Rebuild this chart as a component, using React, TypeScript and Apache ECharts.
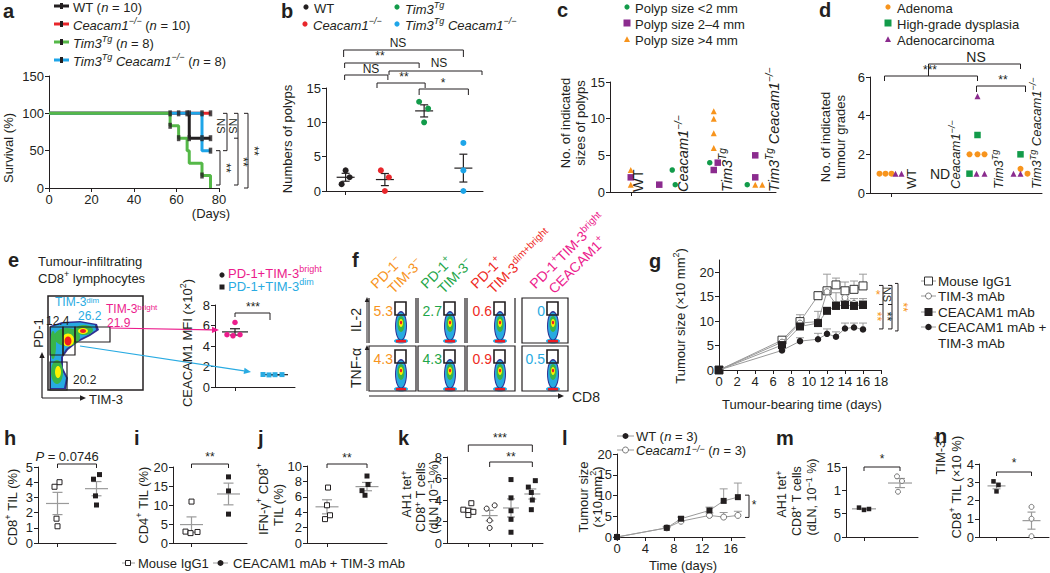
import React, { useEffect, useRef } from "react";
import * as echarts from "echarts";

const FONT = "'Liberation Sans', Arial, Helvetica, sans-serif";
const INK = "#231f20";
const GREY = "#9a9a9a";
const RED = "#e8262b";
const GREEN_A = "#55b848";
const GREEN = "#129b4a";
const BLUE = "#1ea5e8";
const ORANGE = "#f7941d";
const PURPLE = "#8b2b8e";
const PINK = "#ec1c8c";
const CYAN = "#29abe2";
const F_RED = "#ee2a24";
const F_GREEN = "#1fa64a";

/* ================= data ================= */
// a — survival (%) vs days
const aWT = [[0, 100], [66, 66.7], [76, 66.7]];
const aCeacam = [[0, 100], [76, 100]];
const aTim3 = [[0, 100], [57, 83.3], [61, 66.7], [65, 50], [66, 33.3], [72, 16.7], [76, 0]];
const aTim3Ceacam = [[0, 100], [72, 50], [76, 50]];
const aCensored = [[57, 100], [61, 100], [65, 100], [66, 100], [72, 100], [76, 100], [66, 66.7], [72, 66.7], [76, 66.7], [57, 83.3], [61, 66.7], [72, 16.7], [76, 50]];

// b — numbers of polyps
const bGroups = ["WT", "Ceacam1−/−", "Tim3Tg", "Tim3Tg Ceacam1−/−"];
const bWT = [3, 2, 1];
const bCeacam = [3, 2, 0];
const bTim3 = [13, 12, 10];
const bTim3Ceacam = [7, 3, 0];

// c — [group index, count]
const cSmall = [[1, 3], [1, 1], [2, 4], [3, 1]];
const cMedium = [[0, 2], [1, 1], [2, 4], [2, 3], [3, 5], [3, 2]];
const cLarge = [[0, 3], [0, 1], [2, 11], [2, 10], [2, 8], [2, 6], [3, 1], [3, 1]];

// d — [group index, count]
const dAdenoma = [[0, 1], [0, 1], [0, 1], [2, 2], [2, 2], [2, 2], [3, 1.25], [3, 1]];
const dHighGrade = [[2, 1], [2, 3], [3, 2]];
const dAdenoCa = [[0, 1], [0, 1], [2, 1], [2, 1], [2, 5], [3, 1], [3, 1]];

// e — CEACAM1 MFI (x10^2)
const eGroups = ["PD-1+TIM-3bright", "PD-1+TIM-3dim"];
const eBright = [6.3, 5.1, 5.0, 5.1];
const eDim = [1.22, 1.18, 1.2, 1.21];

// f — percentages in gates
const fIL2 = ["5.3", "2.7", "0.6", "0"];
const fTNF = ["4.3", "4.3", "0.9", "0.5"];

// g — tumour size (x10 mm2)
const gDays = [0, 7, 9, 11, 12, 13, 14, 15, 16];
const gIgG = [0, 6.1, 9.9, 15.2, 16.2, 17.4, 16.2, 16.5, 17.2];
const gIgGTop = [0, 6.5, 11.3, 16.0, 19.6, 18.8, 18.0, 18.2, 19.6];
const gTim3 = [0, 5.7, 9.6, 9.9, 16.0, 13.4, 14.8, 13.6, 13.4];
const gTim3Top = [0, 6.0, 10.4, 12.0, 16.8, 15.8, 15.6, 14.6, 14.6];
const gCeacam = [0, 5.1, 8.9, 9.6, 12.1, 13.1, 13.3, 13.1, 13.3];
const gCeacamTop = [0, 5.5, 9.6, 10.2, 12.8, 14.0, 14.2, 14.0, 14.2];
const gCombo = [0, 4.0, 5.9, 6.3, 7.4, 6.8, 8.5, 8.7, 8.3];
const gComboTop = [0, 4.4, 6.6, 7.5, 8.4, 7.8, 9.6, 9.6, 9.6];

// h, i, j — IgG1 vs CEACAM1 mAb + TIM-3 mAb
const treatGroups = ["Mouse IgG1", "CEACAM1 mAb + TIM-3 mAb"];
const hIgG = [4.0, 3.7, 1.6, 1.1];
const hCombo = [4.5, 4.2, 3.1, 2.5];
const iIgG = [10.9, 3.0, 2.6, 2.9];
const iCombo = [17.4, 13.7, 7.6];
const jIgG = [7.2, 4.9, 3.6, 3.1];
const jCombo = [8.7, 7.6, 6.8, 6.2];

// k — AH1 tet+ CD8+ T cells
const kIgG = [3.7, 3.1, 3.0, 2.9, 2.6];
const kTim3 = [3.2, 3.5, 2.1, 1.4];
const kCeacam = [5.9, 4.2, 3.0, 2.2, 1.0];
const kCombo = [5.8, 5.2, 4.7, 4.0, 3.1];

// l — tumour size
const lDays = [0, 7, 9, 13, 15, 17];
const lWT = [0, 2.2, 4.4, 6.4, 8.7, 9.6];
const lWTTop = [0, 2.5, 4.8, 7.2, 11.6, 13.0];
const lCeacam = [0, 2.2, 3.8, 5.2, 4.8, 5.2];
const lCeacamTop = [0, 2.4, 4.0, 5.8, 5.9, 6.2];

// m, n — WT vs Ceacam1-/-
const mnGroups = ["WT", "Ceacam1−/−"];
const mWT = [6.3, 5.8, 6.0];
const mCeacam = [13.0, 12.0, 9.7];
const nWT = [3.05, 2.85, 2.5];
const nCeacam = [1.65, 1.0, 0.04];
const mYLabels: Record<number, string> = { 0: "0", 5: "5", 10: "1", 15: "15" };

/* ================= layout ================= */
const LA: any = { l: 49, t: 76, w: 170, h: 112, x0: 0, x1: 80, y0: 0, y1: 150 };
const LB: any = { l: 326, t: 88, w: 157, h: 103, n: 4, y0: 0, y1: 15 };
const LC: any = { l: 610, t: 82, w: 166, h: 110, n: 4, y0: 0, y1: 15 };
const LD: any = { l: 870, t: 77, w: 172, h: 116, n: 4, y0: 0, y1: 6 };
const LE: any = { l: 215, t: 305, w: 80, h: 82, n: 2, y0: 0, y1: 8 };
const LG: any = { l: 719, t: 260, w: 162, h: 110, x0: 0, x1: 18, y0: 0, y1: 22.5 };
const LH: any = { l: 38, t: 467, w: 78, h: 76, n: 2, y0: 0, y1: 5 };
const LI: any = { l: 173, t: 467, w: 74, h: 76, n: 2, y0: 0, y1: 20 };
const LJ: any = { l: 307, t: 466, w: 80, h: 77, n: 2, y0: 0, y1: 10 };
const LK: any = { l: 447, t: 457, w: 96, h: 86, x0: 0, x1: 4.5, y0: 0, y1: 8 };
const LL: any = { l: 617, t: 454, w: 128, h: 83, x0: 0, x1: 18, y0: 0, y1: 20 };
const LM: any = { l: 846, t: 467, w: 72, h: 70, n: 2, y0: 0, y1: 15 };
const LN: any = { l: 979, t: 464, w: 70, h: 73, n: 2, y0: 0, y1: 4 };

function px(g: any, x: number) {
  return g.n ? g.l + ((x + 0.5) * g.w) / g.n : g.l + ((x - g.x0) / (g.x1 - g.x0)) * g.w;
}
function py(g: any, y: number) {
  return g.t + g.h * (1 - (y - g.y0) / (g.y1 - g.y0));
}

const mean = (a: number[]) => a.reduce((s, v) => s + v, 0) / a.length;
const sem = (a: number[]) => {
  const m = mean(a);
  const sd = Math.sqrt(a.reduce((s, v) => s + (v - m) * (v - m), 0) / (a.length - 1));
  return sd / Math.sqrt(a.length);
};

function buildOption() {
  const grids: any[] = [];
  const xAxes: any[] = [];
  const yAxes: any[] = [];
  const series: any[] = [];
  const G: any[] = [];

  const axLine = { show: true, onZero: false, lineStyle: { color: INK, width: 1 } };
  const tick = { show: true, inside: false, length: 4, lineStyle: { color: INK, width: 1 } };
  const lab = (o: any = {}) => ({ color: INK, fontSize: 13, fontFamily: FONT, margin: 5, ...o });
  const vAx = (g: any, isX: boolean, interval: number, extra: any = {}) => ({
    type: "value",
    min: isX ? g.x0 : g.y0,
    max: isX ? g.x1 : g.y1,
    interval,
    axisLine: axLine,
    axisTick: tick,
    axisLabel: lab(),
    splitLine: { show: false },
    ...extra,
  });
  const cAx = (cats: string[]) => ({
    type: "category",
    data: cats,
    boundaryGap: true,
    axisLine: axLine,
    axisTick: { ...tick, alignWithLabel: true },
    axisLabel: { show: false },
    splitLine: { show: false },
  });
  function addGrid(g: any, xa: any, ya: any) {
    const i = grids.length;
    grids.push({ left: g.l, top: g.t, width: g.w, height: g.h, containLabel: false, outerBoundsMode: "none" });
    xAxes.push({ ...xa, gridIndex: i });
    yAxes.push({ ...ya, gridIndex: i });
    return i;
  }

  /* ---- series helpers ---- */
  function pts(gi: number, pairs: number[][], jit: number[], sym: any) {
    series.push({
      type: "scatter",
      xAxisIndex: gi,
      yAxisIndex: gi,
      z: 5,
      silent: true,
      symbol: sym.symbol,
      symbolSize: sym.size,
      itemStyle: { color: sym.fill, borderColor: sym.stroke || sym.fill, borderWidth: sym.bw || 0, opacity: 1 },
      data: pairs.map((p, k) => ({ value: p, symbolOffset: [jit[k] || 0, 0] })),
    });
  }
  const grp = (cat: number, vals: number[]) => vals.map((v) => [cat, v]);
  function stat(gi: number, groups: number[][], cats: number[], color: string, mh: number, ch: number, lw = 1.2) {
    series.push({
      type: "custom",
      xAxisIndex: gi,
      yAxisIndex: gi,
      z: 4,
      silent: true,
      encode: { x: 0, y: 1 },
      data: groups.map((g, k) => [cats[k], mean(g), mean(g) - sem(g), mean(g) + sem(g)]),
      renderItem: (params: any, api: any) => {
        const x = api.value(0);
        const pm = api.coord([x, api.value(1)]);
        const pl = api.coord([x, api.value(2)]);
        const ph = api.coord([x, api.value(3)]);
        const st = { stroke: color, lineWidth: lw };
        return {
          type: "group",
          children: [
            { type: "line", shape: { x1: pm[0] - mh, y1: pm[1], x2: pm[0] + mh, y2: pm[1] }, style: st },
            { type: "line", shape: { x1: pl[0], y1: pl[1], x2: ph[0], y2: ph[1] }, style: st },
            { type: "line", shape: { x1: pl[0] - ch, y1: pl[1], x2: pl[0] + ch, y2: pl[1] }, style: st },
            { type: "line", shape: { x1: ph[0] - ch, y1: ph[1], x2: ph[0] + ch, y2: ph[1] }, style: st },
          ],
        };
      },
    });
  }
  function errUp(gi: number, xs: number[], vals: number[], tops: number[], color: string, ch: number) {
    series.push({
      type: "custom",
      xAxisIndex: gi,
      yAxisIndex: gi,
      z: 1,
      silent: true,
      encode: { x: 0, y: 1 },
      data: xs.map((x, k) => [x, vals[k], tops[k]]),
      renderItem: (params: any, api: any) => {
        const x = api.value(0);
        const v = api.value(1);
        const t = api.value(2);
        if (!(t > v)) return { type: "group", children: [] };
        const p = api.coord([x, v]);
        const q = api.coord([x, t]);
        const st = { stroke: color, lineWidth: 1 };
        return {
          type: "group",
          children: [
            { type: "line", shape: { x1: p[0], y1: p[1], x2: q[0], y2: q[1] }, style: st },
            { type: "line", shape: { x1: q[0] - ch, y1: q[1], x2: q[0] + ch, y2: q[1] }, style: st },
          ],
        };
      },
    });
  }
  function line(gi: number, xs: number[], vals: number[], sym: any, z = 3) {
    series.push({
      type: "line",
      xAxisIndex: gi,
      yAxisIndex: gi,
      z,
      silent: true,
      symbol: sym.symbol,
      symbolSize: sym.size,
      showSymbol: true,
      itemStyle: { color: sym.fill, borderColor: sym.stroke || sym.fill, borderWidth: sym.bw || 0 },
      lineStyle: { color: GREY, width: 1 },
      data: xs.map((x, k) => [x, vals[k]]),
    });
  }

  /* ---- graphic helpers ---- */
  function T(text: string, x: number, y: number, o: any = {}) {
    const size = o.size || 13;
    const color = o.color || INK;
    const isRich = text.indexOf("{") >= 0;
    const lh = o.lh || Math.round(size * 1.3);
    const style: any = {
      text,
      fill: color,
      fontSize: size,
      fontFamily: FONT,
      fontWeight: o.bold ? "bold" : "normal",
      fontStyle: o.italic ? "italic" : "normal",
      align: o.align || "left",
      verticalAlign: "middle",
      textAlign: o.align || "left",
      textVerticalAlign: "middle",
    };
    if (isRich) {
      style.lineHeight = lh;
      style.rich = {
        i: { fontStyle: "italic", fontSize: size, fontFamily: FONT, fill: color, lineHeight: lh },
        s: { fontSize: Math.round(size * 0.68), fontFamily: FONT, fill: color, verticalAlign: "top" },
        si: { fontStyle: "italic", fontSize: Math.round(size * 0.68), fontFamily: FONT, fill: color, verticalAlign: "top" },
      };
    }
    G.push({ type: "text", x, y, rotation: o.rot || 0, z: 50, silent: true, style });
  }
  function L(x1: number, y1: number, x2: number, y2: number, color = INK, w = 1) {
    G.push({ type: "line", z: 40, silent: true, shape: { x1, y1, x2, y2 }, style: { stroke: color, lineWidth: w } });
  }
  function PL(points: number[][], color = INK, w = 1) {
    G.push({ type: "polyline", z: 40, silent: true, shape: { points }, style: { stroke: color, lineWidth: w, fill: "none" } });
  }
  function R(x: number, y: number, w: number, h: number, o: any = {}) {
    G.push({
      type: "rect",
      z: o.z || 40,
      silent: true,
      shape: { x, y, width: w, height: h },
      style: { fill: o.fill || "none", stroke: o.stroke || "none", lineWidth: o.lw || 1 },
    });
  }
  function E(cx: number, cy: number, rx: number, ry: number, fill: string) {
    G.push({ type: "ellipse", z: 30, silent: true, shape: { cx, cy, rx, ry }, style: { fill } });
  }
  function C(cx: number, cy: number, r: number, fill: string, stroke = "none") {
    G.push({ type: "circle", z: 40, silent: true, shape: { cx, cy, r }, style: { fill, stroke, lineWidth: 1 } });
  }
  function PG(points: number[][], fill: string, z = 30) {
    G.push({ type: "polygon", z, silent: true, shape: { points }, style: { fill } });
  }
  function tri(cx: number, cy: number, s: number, fill: string) {
    PG([[cx, cy - s * 0.55], [cx + s * 0.5, cy + s * 0.4], [cx - s * 0.5, cy + s * 0.4]], fill, 40);
  }
  function arrow(x1: number, y1: number, x2: number, y2: number, color = INK, w = 1.2, hs = 6) {
    const a = Math.atan2(y2 - y1, x2 - x1);
    const bx = x2 - hs * Math.cos(a);
    const by = y2 - hs * Math.sin(a);
    L(x1, y1, bx, by, color, w);
    const nx = -Math.sin(a) * hs * 0.45;
    const ny = Math.cos(a) * hs * 0.45;
    PG([[x2, y2], [bx + nx, by + ny], [bx - nx, by - ny]], color, 41);
  }
  const hb = (x1: number, x2: number, y: number, l1 = 4, l2 = l1) => PL([[x1, y + l1], [x1, y], [x2, y], [x2, y + l2]]);
  const vb = (x: number, y1: number, y2: number, leg = 4) => PL([[x - leg, y1], [x, y1], [x, y2], [x - leg, y2]]);
  const ROT = Math.PI / 2;
  const letter = (t: string, x: number, y: number) => T(t, x, y, { size: 20, bold: true });

  const openSq = (size: number, color = INK) => ({ symbol: "rect", size, fill: "#fff", stroke: color, bw: 1 });
  const fillSq = (size: number, color = INK) => ({ symbol: "rect", size, fill: color });
  const openCi = (size: number, color = "#666") => ({ symbol: "circle", size, fill: "#fff", stroke: color, bw: 1 });
  const fillCi = (size: number, color = INK) => ({ symbol: "circle", size, fill: color });

  /* ================= panel a ================= */
  const ga = addGrid(LA, vAx(LA, true, 20), vAx(LA, false, 50));
  const kmLines: any[] = [
    [aWT, INK],
    [aCeacam, RED],
    [aTim3Ceacam, BLUE],
    [aTim3, GREEN_A],
  ];
  kmLines.forEach(([d, c], k) => {
    series.push({
      type: "line",
      xAxisIndex: ga,
      yAxisIndex: ga,
      step: "end",
      showSymbol: false,
      silent: true,
      z: 2 + k,
      lineStyle: { color: c, width: 3 },
      data: d,
    });
  });
  series.push({
    type: "scatter",
    xAxisIndex: ga,
    yAxisIndex: ga,
    z: 10,
    silent: true,
    symbol: "rect",
    symbolSize: [3.5, 6],
    itemStyle: { color: INK },
    data: aCensored,
  });
  letter("a", 3, 11);
  const aLeg: any[] = [
    [6, INK, "WT ({i|n} = 10)"],
    [24, RED, "{i|Ceacam1}{si|−/−} ({i|n} = 10)"],
    [42, GREEN_A, "{i|Tim3}{si|Tg} ({i|n} = 8)"],
    [60, BLUE, "{i|Tim3}{si|Tg} {i|Ceacam1}{si|−/−} ({i|n} = 8)"],
  ];
  aLeg.forEach(([y, c, t]) => {
    L(54, y, 69, y, c, 3);
    R(60, y - 3, 3, 6, { fill: INK });
    T(t, 73, y + 1);
  });
  T("Survival (%)", 8, 148, { rot: ROT, align: "center" });
  T("(Days)", 211, 213, { align: "center" });
  vb(227, py(LA, 100), py(LA, 50));
  T("NS", 221, 126, { rot: -ROT, align: "center", size: 11 });
  PL([[234, py(LA, 100)], [238, py(LA, 100)], [238, 185], [234, 185]]);
  L(234, py(LA, 66.7), 238, py(LA, 66.7));
  T("NS", 233, 126, { rot: -ROT, align: "center", size: 11 });
  vb(220, py(LA, 50), 185);
  T("**", 226, 168, { rot: -ROT, align: "center", size: 12 });
  T("**", 243, 162, { rot: -ROT, align: "center", size: 12 });
  vb(248, py(LA, 100), py(LA, 0));
  T("**", 254, 151, { rot: -ROT, align: "center", size: 12 });

  /* ================= panel b ================= */
  const gb = addGrid(LB, cAx(bGroups), vAx(LB, false, 5));
  pts(gb, grp(0, bWT), [0, 4, -4], fillCi(6, INK));
  pts(gb, grp(1, bCeacam), [-4, 4, 0], fillCi(6, RED));
  pts(gb, grp(2, bTim3), [-5, 4, 0], fillCi(6, GREEN));
  pts(gb, grp(3, bTim3Ceacam), [0, 0, 0], fillCi(6, BLUE));
  stat(gb, [bWT, bCeacam, bTim3, bTim3Ceacam], [0, 1, 2, 3], INK, 9, 4);
  letter("b", 281, 11);
  C(306, 7, 2.6, INK);
  T("WT", 314, 8);
  C(305, 24, 2.6, RED);
  T("{i|Ceacam1}{si|−/−}", 313, 25);
  C(397, 7, 2.6, GREEN);
  T("{i|Tim3}{si|Tg}", 405, 9);
  C(397, 24, 2.6, BLUE);
  T("{i|Tim3}{si|Tg} {i|Ceacam1}{si|−/−}", 405, 25);
  T("Numbers of polyps", 287, 139, { rot: ROT, align: "center" });
  const b0 = px(LB, 0), b1 = px(LB, 1), b2 = px(LB, 2), b3 = px(LB, 3);
  hb(b0 - 2, b3, 50, 7);
  T("NS", 398, 43, { align: "center", size: 12 });
  hb(b0 - 1, b2 - 5, 63, 5);
  T("**", 380, 56, { align: "center", size: 12 });
  hb(b0 - 1, b1 + 3, 75, 5);
  T("NS", 371, 69, { align: "center", size: 12 });
  hb(389, 482, 71, 4);
  T("NS", 439, 63, { align: "center", size: 12 });
  hb(377, b2 + 1, 83, 5);
  T("**", 404, 77, { align: "center", size: 12 });
  hb(b2 - 5, b3 + 5, 89, 6);
  T("*", 443, 83, { align: "center", size: 12 });

  /* ================= panel c ================= */
  const gc = addGrid(LC, cAx(bGroups), vAx(LC, false, 5));
  pts(gc, cSmall, [0, 3, -4, -8], { symbol: "circle", size: 5.5, fill: GREEN });
  pts(gc, cMedium, [0, -13, 4, 0, 0, 0], { symbol: "rect", size: 6.5, fill: PURPLE });
  pts(gc, cLarge, [0, 0, 0, 0, 0, 0, 0, 7], { symbol: "triangle", size: 6, fill: ORANGE });
  letter("c", 557, 10);
  C(627, 7, 2.6, GREEN);
  T("Polyp size <2 mm", 635, 8);
  R(623.5, 19.5, 7, 7, { fill: PURPLE });
  T("Polyp size 2–4 mm", 635, 24);
  tri(627, 39.5, 6, ORANGE);
  T("Polyp size >4 mm", 635, 40);
  T("No. of indicated", 565, 123, { rot: ROT, align: "center" });
  T("sizes of polyps", 580, 123, { rot: ROT, align: "center" });
  const cLab = ["WT", "{i|Ceacam1}{si|−/−}", "{i|Tim3}{si|Tg}", "{i|Tim3}{si|Tg} {i|Ceacam1}{si|−/−}"];
  const cShift = [7, 11, 13, 19];
  cLab.forEach((t, k) => T(t, px(LC, k) + cShift[k], 192, { rot: ROT, size: 14.5 }));

  /* ================= panel d ================= */
  const gd = addGrid(LD, cAx(bGroups), vAx(LD, false, 2));
  pts(gd, dAdenoma, [-12, -6, 0, -8, 0, 7, 0, 7], { symbol: "circle", size: 6, fill: ORANGE });
  pts(gd, dHighGrade, [-8, 0, 0], { symbol: "rect", size: 6.5, fill: GREEN });
  pts(gd, dAdenoCa, [4, 10, -1, 7, 0, -7, 0], { symbol: "triangle", size: 6, fill: PURPLE });
  letter("d", 819, 10);
  C(888, 7, 2.6, ORANGE);
  T("Adenoma", 897, 8);
  R(884.5, 19.5, 7, 7, { fill: GREEN });
  T("High-grade dysplasia", 897, 24);
  tri(888, 39.5, 6, PURPLE);
  T("Adenocarcinoma", 897, 40);
  T("No. of indicated", 825, 137, { rot: ROT, align: "center" });
  T("tumour grades", 840, 137, { rot: ROT, align: "center" });
  T("ND", 940, 174, { align: "center", size: 14 });
  const dShift = [20, 21, 21, 16];
  cLab.forEach((t, k) => T(t, px(LD, k) + dShift[k], 189, { rot: ROT, size: 13 }));
  const d0 = px(LD, 0), d1 = px(LD, 1), d2 = px(LD, 2), d3 = px(LD, 3);
  hb(d0 - 7, d2, 76, 5);
  T("***", 930, 70, { align: "center", size: 12 });
  hb(d1 - 6, d3, 64, 12, 5);
  T("NS", 976, 57, { align: "center", size: 14 });
  hb(d2 - 1, d3 + 5, 86, 6);
  T("**", 1003, 80, { align: "center", size: 12 });

  /* ================= panel e ================= */
  const ge = addGrid(LE, cAx(eGroups), vAx(LE, false, 2));
  pts(ge, grp(0, eBright), [0, -8, -2, 5], fillCi(5.5, PINK));
  pts(ge, grp(1, eDim), [-12, -6, 0, 7], fillSq(5, CYAN));
  stat(ge, [eBright, eDim], [0, 1], INK, 13, 5);
  letter("e", 8, 260);
  T("Tumour-infiltrating", 38, 261);
  T("CD8{s|+} lymphocytes", 38, 278);
  C(222, 275, 2.6, INK);
  T("PD-1+TIM-3{s|bright}", 228, 273, { color: PINK });
  R(219.5, 284.5, 5, 5, { fill: INK });
  T("PD-1+TIM-3{s|dim}", 228, 286, { color: CYAN });
  T("CEACAM1 MFI (×10{s|2})", 187, 343, { rot: ROT, align: "center" });
  hb(px(LE, 0), px(LE, 1) - 5, 313, 0, 7);
  L(px(LE, 0), 313, px(LE, 0), 317);
  T("***", 253, 307, { align: "center", size: 12 });
  // flow plot (schematic)
  PG([[50, 326], [62, 322], [80, 321], [97, 324], [99, 330], [90, 336], [78, 342], [68, 350], [63, 357], [63, 368], [68, 378], [66, 389], [50, 389]], "#2e3192");
  PG([[51, 327], [63, 323.5], [80, 322.5], [95, 325], [96, 330], [88, 335], [76, 341], [66, 349], [61, 357], [61, 368], [66, 378], [64, 388], [51, 388]], "#27aae1");
  E(67, 337, 13, 9, "#39b54a");
  E(84, 330, 9, 5, "#39b54a");
  E(57, 372, 6, 12, "#39b54a");
  E(53, 345, 3, 14, "#39b54a");
  E(68, 340, 6, 6.5, "#fff200");
  E(83, 331, 5, 3, "#fff200");
  E(58, 372, 3, 6, "#fff200");
  E(68, 341, 3.5, 4.5, "#ed1c24");
  E(83, 331, 3, 2, "#ed1c24");
  R(48, 296, 95, 94, { stroke: INK, lw: 1.5 });
  R(50, 327, 13, 28, { stroke: INK, lw: 1.2 });
  R(63, 327, 12, 28, { stroke: INK, lw: 1.2 });
  R(75, 327, 35, 15, { stroke: INK, lw: 1.2 });
  R(50, 362, 17, 28, { stroke: INK, lw: 1.2 });
  arrow(42, 394, 42, 352, INK, 1.2, 6);
  arrow(42, 398, 86, 398, INK, 1.2, 6);
  L(42, 394, 42, 398, INK, 1.2);
  T("PD-1", 38, 333, { rot: ROT, align: "center" });
  T("TIM-3", 89, 399);
  T("12.4", 46, 321, { size: 12 });
  T("TIM-3{s|dim}", 55, 302, { color: CYAN, size: 12, lh: 12 });
  T("26.2", 78, 316, { color: CYAN, size: 12 });
  T("TIM-3{s|bright}", 106, 309, { color: PINK, size: 12, lh: 12 });
  T("21.9", 107, 323, { color: PINK, size: 12 });
  T("20.2", 73, 380, { size: 12 });
  arrow(110, 328, 219, 330, PINK, 1.2, 7);
  arrow(80, 346, 251, 372, CYAN, 1.2, 7);

  /* ================= panel f ================= */
  letter("f", 352, 260);
  const fCols = [[369, 416], [418, 465], [467, 515], [522, 568]];
  const fRows = [[298, 343], [346, 391]];
  const fValColors = [ORANGE, F_GREEN, F_RED, CYAN];
  const fVals = [fIL2, fTNF];
  fCols.forEach(([x1, x2], ci) => {
    fRows.forEach(([y1, y2], ri) => {
      const bx = x2 - 15;
      E(bx, y2 - 2, 7, 2.5, "#27aae1");
      E(bx, y1 + 28, 6, 15, "#2e3192");
      E(bx, y1 + 28, 5, 13.5, "#27aae1");
      E(bx, y1 + 26, 3.5, 8, "#39b54a");
      E(bx, y1 + 25, 2, 4, "#fff200");
      E(bx, y1 + 24.5, 1.2, 1.8, "#ed1c24");
      R(bx - 5, y2 - 3, 10, 2.5, { fill: "#ed1c24", z: 31 });
      if (ri === 0 && ci < 3) {
        L(x1, y1, x1, y2, INK, 1.2);
        L(x2, y1, x2, y2, INK, 1.2);
      } else {
        R(x1, y1, x2 - x1, y2 - y1, { stroke: INK, lw: 1.2 });
      }
      R(x2 - 21, y1 + 4, 11, 13, { stroke: INK, lw: 1.6 });
      T(fVals[ri][ci], x2 - 23, y1 + 13, { size: 14, color: fValColors[ci], align: "right" });
    });
  });
  arrow(367, 343, 367, 297, INK, 1, 5);
  arrow(367, 391, 367, 345, INK, 1, 5);
  arrow(369, 396, 564, 396, INK, 1, 6);
  T("IL-2", 356, 320, { rot: ROT, align: "center", size: 14 });
  T("TNF-α", 356, 368, { rot: ROT, align: "center", size: 14 });
  T("CD8", 572, 397, { size: 14 });
  const Q = Math.PI / 4;
  T("PD-1{s|−}", 373, 286, { rot: Q, size: 14, color: ORANGE });
  T("TIM-3{s|−}", 390, 291, { rot: Q, size: 14, color: ORANGE });
  T("PD-1{s|+}", 423, 286, { rot: Q, size: 14, color: F_GREEN });
  T("TIM-3{s|−}", 440, 291, { rot: Q, size: 14, color: F_GREEN });
  T("PD-1{s|+}", 473, 286, { rot: Q, size: 14, color: F_RED });
  T("TIM-3{s|dim+bright}", 490, 291, { rot: Q, size: 14, color: F_RED });
  T("PD-1{s|+}TIM-3{s|bright}", 532, 286, { rot: Q, size: 14, color: PINK });
  T("CEACAM1{s|+}", 551, 291, { rot: Q, size: 14, color: PINK });

  /* ================= panel g ================= */
  const gg = addGrid(
    LG,
    vAx(LG, true, 2),
    vAx(LG, false, 5, { axisLabel: lab({ showMaxLabel: false }) })
  );
  errUp(gg, gDays, gIgG, gIgGTop, GREY, 4);
  errUp(gg, gDays, gTim3, gTim3Top, GREY, 4);
  errUp(gg, gDays, gCeacam, gCeacamTop, GREY, 4);
  errUp(gg, gDays, gCombo, gComboTop, GREY, 4);
  line(gg, gDays, gIgG, openSq(8, "#333"), 3);
  line(gg, gDays, gTim3, openCi(6, "#777"), 4);
  line(gg, gDays, gCeacam, fillSq(8, INK), 5);
  line(gg, gDays, gCombo, fillCi(6.5, INK), 6);
  letter("g", 649, 261);
  T("Tumour size (×10 mm{s|2})", 680, 316, { rot: ROT, align: "center" });
  T("Tumour-bearing time (days)", 802, 404, { align: "center" });
  const gy1 = py(LG, 17.3), gy2 = py(LG, 13.4), gy3 = py(LG, 8.4);
  PL([[879, gy1], [883, gy1], [883, gy3], [879, gy3]]);
  L(879, gy2, 883, gy2);
  PL([[888, gy1], [892, gy1], [892, gy3], [888, gy3]]);
  L(888, gy2, 892, gy2);
  vb(898, gy1 - 2, gy3 + 2, 3);
  T("*", 878, gy1 + 10, { align: "center", size: 12, color: ORANGE });
  T("NS", 887, gy1 + 9, { rot: -ROT, align: "center", size: 11 });
  T("**", 877, gy2 + 12, { rot: -ROT, align: "center", size: 12, color: ORANGE });
  T("**", 887, gy2 + 12, { rot: -ROT, align: "center", size: 12 });
  T("**", 903, (gy1 + gy3) / 2, { rot: -ROT, align: "center", size: 12, color: ORANGE });
  const gLeg: any[] = [
    [281, openSq(8, "#333"), "Mouse IgG1"],
    [296, openCi(6, "#777"), "TIM-3 mAb"],
    [312, fillSq(8, INK), "CEACAM1 mAb"],
    [327, fillCi(6.5, INK), "CEACAM1 mAb +"],
  ];
  gLeg.forEach(([y, s, t]) => {
    L(921, y, 936, y, GREY, 1);
    if (s.symbol === "rect") R(928.5 - s.size / 2, y - s.size / 2, s.size, s.size, { fill: s.fill, stroke: s.stroke, lw: 1 });
    else C(928.5, y, s.size / 2, s.fill, s.stroke || "none");
    T(t, 938, y + 0.5, { size: 13.5 });
  });
  T("TIM-3 mAb", 938, 343, { size: 13.5 });

  /* ================= panel h ================= */
  const gh = addGrid(LH, cAx(treatGroups), vAx(LH, false, 1));
  pts(gh, grp(0, hIgG), [2, -3, -1, 0], openSq(5));
  pts(gh, grp(1, hCombo), [3, -3, -1, 0], fillSq(5));
  stat(gh, [hIgG, hCombo], [0, 1], GREY, 11.5, 5);
  letter("h", 4, 438);
  T("{i|P} = 0.0746", 67, 456, { align: "center" });
  hb(px(LH, 0), px(LH, 1), 464, 4);
  T("CD8{s|+} TIL (%)", 12, 507, { rot: ROT, align: "center" });

  /* ================= panel i ================= */
  const gi2 = addGrid(LI, cAx(treatGroups), vAx(LI, false, 5));
  pts(gi2, grp(0, iIgG), [0, -6, -1, 6], openSq(5));
  pts(gi2, grp(1, iCombo), [0, 0, 0], fillSq(5));
  stat(gi2, [iIgG, iCombo], [0, 1], GREY, 11.5, 5);
  letter("i", 134, 438);
  T("**", (px(LI, 0) + px(LI, 1)) / 2, 457, { align: "center", size: 12 });
  hb(px(LI, 0), px(LI, 1), 464, 4);
  T("CD4{s|+} TIL (%)", 143, 505, { rot: ROT, align: "center" });

  /* ================= panel j ================= */
  const gj = addGrid(LJ, cAx(treatGroups), vAx(LJ, false, 2));
  pts(gj, grp(0, jIgG), [1, 0, 3, -2], openSq(5));
  pts(gj, grp(1, jCombo), [0, 1, -5, -2], fillSq(5));
  stat(gj, [jIgG, jCombo], [0, 1], GREY, 11.5, 5);
  letter("j", 258, 438);
  T("**", (px(LJ, 0) + px(LJ, 1)) / 2, 458, { align: "center", size: 12 });
  hb(px(LJ, 0), px(LJ, 1), 464, 4);
  T("IFN-γ{s|+} CD8{s|+}", 263, 499, { rot: ROT, align: "center" });
  T("TIL (%)", 278, 505, { rot: ROT, align: "center" });

  /* ================= panel k ================= */
  const gk = addGrid(
    LK,
    vAx(LK, true, 1, { axisTick: { ...tick, customValues: [1, 2, 3, 4] }, axisLabel: { show: false } }),
    vAx(LK, false, 2)
  );
  pts(gk, grp(1, kIgG), [3, -5, 0, 5, 0], openSq(5));
  pts(gk, grp(2, kTim3), [-3, 5, 0, 0], openCi(5, INK));
  pts(gk, grp(3, kCeacam), [0, 0, 0, 0, 0], fillSq(5));
  pts(gk, grp(4, kCombo), [3, -4, -1, 0, -1], fillSq(5));
  stat(gk, [kIgG, kTim3, kCeacam, kCombo], [1, 2, 3, 4], GREY, 8, 4);
  letter("k", 398, 438);
  T("***", 500, 438, { align: "center", size: 12 });
  hb(px(LK, 1), px(LK, 4), 445, 7);
  T("**", 511, 457, { align: "center", size: 12 });
  hb(px(LK, 2), px(LK, 4), 462, 5);
  T("AH1 tet{s|+}", 407, 494, { rot: ROT, align: "center", size: 12.5 });
  T("CD8{s|+} T cells", 421, 497, { rot: ROT, align: "center", size: 12.5 });
  T("(dLN 10{s|−1} %)", 434, 497, { rot: ROT, align: "center", size: 12.5 });

  /* ================= panel l ================= */
  const gl = addGrid(
    LL,
    vAx(LL, true, 4, { axisLabel: lab({ showMaxLabel: false }) }),
    vAx(LL, false, 5)
  );
  errUp(gl, lDays, lWT, lWTTop, GREY, 4);
  errUp(gl, lDays, lCeacam, lCeacamTop, GREY, 4);
  line(gl, lDays, lWT, fillSq(6, INK), 4);
  line(gl, lDays, lCeacam, openCi(6, "#777"), 3);
  letter("l", 562, 438);
  L(617, 436, 634, 436, GREY, 1);
  C(625.5, 436, 3, INK);
  T("WT ({i|n} = 3)", 636, 436, { lh: 13 });
  L(617, 450, 634, 450, GREY, 1);
  C(625.5, 450, 3, "#fff", "#777");
  T("{i|Ceacam1}{si|−/−} ({i|n} = 3)", 636, 450.5, { lh: 13 });
  T("Tumour size", 583, 497, { rot: ROT, align: "center" });
  T("(×10 mm{s|2})", 597, 497, { rot: ROT, align: "center" });
  T("Time (days)", 683, 565, { align: "center" });
  PL([[745, py(LL, 9.6) - 2], [749, py(LL, 9.6) - 2], [749, py(LL, 5.2) + 2], [745, py(LL, 5.2) + 2]]);
  T("*", 754, 505, { align: "center", size: 12 });

  /* ================= panel m ================= */
  const gm = addGrid(
    LM,
    cAx(mnGroups),
    vAx(LM, false, 5, { axisLabel: lab({ formatter: (v: number) => mYLabels[v] ?? String(v) }) })
  );
  pts(gm, grp(0, mWT), [-5, 0, 5], fillSq(4.5));
  pts(gm, grp(1, mCeacam), [-3, 2, -2], openCi(5, "#777"));
  stat(gm, [mWT, mCeacam], [0, 1], GREY, 12, 5);
  letter("m", 776, 438);
  T("*", (px(LM, 0) + px(LM, 1)) / 2, 459, { align: "center", size: 12 });
  hb(px(LM, 0), px(LM, 1), 467, 4);
  T("AH1 tet{s|+}", 782, 494, { rot: ROT, align: "center", size: 12.5 });
  T("CD8{s|+} T cells", 797, 501, { rot: ROT, align: "center", size: 12.5 });
  T("(dLN, 10{s|−1} %)", 812, 497, { rot: ROT, align: "center", size: 12.5 });

  /* ================= panel n ================= */
  const gn = addGrid(LN, cAx(mnGroups), vAx(LN, false, 1));
  pts(gn, grp(0, nWT), [-3, 2, 0], fillSq(4.5));
  pts(gn, grp(1, nCeacam), [0, 0, 0], openCi(5, "#777"));
  stat(gn, [nWT, nCeacam], [0, 1], GREY, 9, 4);
  letter("n", 935, 436);
  T("*", (px(LN, 0) + px(LN, 1)) / 2, 463, { align: "center", size: 12 });
  hb(px(LN, 0), px(LN, 1), 472, 4);
  T("TIM-3{s|+}", 940, 455, { rot: ROT, align: "center" });
  T("CD8{s|+} TIL (×10 %)", 956, 487, { rot: ROT, align: "center" });

  /* ================= bottom legend ================= */
  L(122, 563, 135, 563, GREY, 1);
  R(125.5, 560.5, 5, 5, { fill: "#fff", stroke: INK, lw: 1 });
  T(treatGroups[0], 138, 563);
  L(213, 563, 228, 563, GREY, 1);
  C(220.5, 563, 3, INK);
  T(treatGroups[1], 233, 563);

  return {
    animation: false,
    backgroundColor: "#fff",
    textStyle: { fontFamily: FONT },
    grid: grids,
    xAxis: xAxes,
    yAxis: yAxes,
    series,
    graphic: { elements: G },
  };
}

export default function App() {
  const ref = useRef<HTMLDivElement>(null);
  useEffect(() => {
    const chart = echarts.init(ref.current as HTMLDivElement, null, { renderer: "svg" });
    chart.setOption(buildOption() as any);
    return () => chart.dispose();
  }, []);
  return (
    <div
      ref={ref}
      style={{ position: "absolute", left: 0, top: 0, width: 1050, height: 573, background: "#fff" }}
    />
  );
}
